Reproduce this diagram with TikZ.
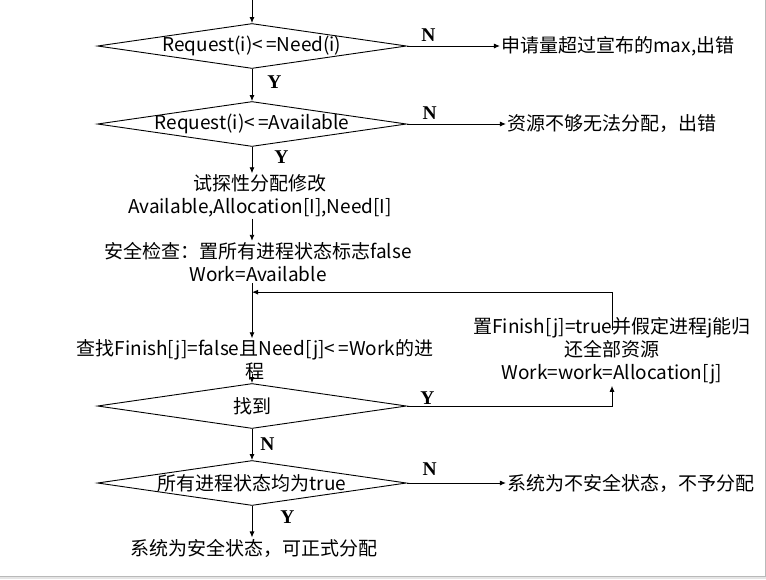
\documentclass[tikz,border=0pt]{standalone}
\usepackage{fontspec}
\setmainfont{Noto Sans CJK SC}
\newfontfamily\yesnofont{Liberation Serif}
\usetikzlibrary{positioning,shapes.geometric,arrows.meta}
\tikzset{decide/.style={draw, diamond, minimum width=309pt, minimum height=45pt, inner sep=0pt}}
\tikzset{note/.style={align=center, inner sep=1pt}}
\tikzset{yn/.style={font=\yesnofont\bfseries\fontsize{19.5}{19.5}\selectfont, inner sep=0pt}}

\begin{document}
\begin{tikzpicture}[
    x=1pt, y=-1pt,
    node distance=78pt,
    font=\fontsize{19}{23}\selectfont,
    line width=0.9pt,
    >={Latex[length=6pt,width=5pt]}
  ]
  \useasboundingbox (0,0) rectangle (766,579);

  % Main column: checks on the request
  \coordinate (start) at (252,0);
  \node (d1) [decide, label=center:{Request(i)<\,=Need(i)}] at (252,46) {};
  \node (d2) [decide, on grid, below=of d1, label=center:{Request(i)<\,=Available}] {};
  \node (t1) [note, on grid, below=72pt of d2, xshift=8pt] {试探性分配修改\\Available,Allocation[I],Need[I]};
  \node (t2) [note, on grid, below=66pt of t1, xshift=-2pt] {安全检查：置所有进程状态标志false\\Work=Available};

  % Safety loop
  \node (t3) [note, on grid, below=98pt of t2, xshift=-3pt] {查找Finish[j]=false且Need[j]<\,=Work的进\\程};
  \node (d3) [decide, on grid, below=46pt of t3, xshift=-3pt, label=center:找到] {};
  \node (d4) [decide, on grid, below=77pt of d3, label=center:{所有进程状态均为true}] {};
  \node (t4) [note, on grid, below=65pt of d4, xshift=2pt] {系统为安全状态，可正式分配};
  \node (upd) [note, on grid, above right=55pt and 360pt of d3] {置Finish[j]=true并假定进程j能归\\还全部资源\\Work=work=Allocation[j]};

  % Outcomes on the right
  \node (r1) [note, right=93pt of d1.east] {申请量超过宣布的max,出错};
  \node (r2) [note, right=99pt of d2.east] {资源不够无法分配，出错};
  \node (r3) [note, right=99pt of d4.east] {系统为不安全状态，不予分配};

  % Connections
  \draw[->] (start) -- (d1);
  \draw[->] (d1.east) -- (r1.west) node[yn, pos=0.23, above=4pt] {N};
  \draw[->] (d1) -- (d2) node[yn, pos=0.4, anchor=west, xshift=15pt] {Y};
  \draw[->] (d2.east) -- (r2.west) node[yn, pos=0.23, above=4pt] {N};
  \draw[->] (d2.south) -- (d2.south |- t1.north) node[yn, pos=0.4, anchor=west, xshift=22pt] {Y};
  \draw[->] (t1.south -| d2) -- (t2.north -| d2);
  \coordinate (back) at ([yshift=-9pt]t2.south -| d2);
  \draw[->] (t2.south -| d2) -- (t3.north -| d2);
  \draw[->] ([yshift=8pt]t3.south -| d3) -- (d3.north);
  \draw[->] (d3.east) -| (upd.south) node[yn, pos=0.05, above=1pt] {Y};
  \draw[->] ([yshift=-14pt]upd.north) |- (back);
  \draw[->] (d3) -- (d4) node[yn, pos=0.48, anchor=west, xshift=8pt] {N};
  \draw[->] (d4.east) -- (r3.west) node[yn, pos=0.23, above=7pt] {N};
  \draw[->] (d4.south) -- (d4.south |- t4.north) node[yn, pos=0.35, anchor=west, xshift=28pt] {Y};

  % Window edge
  \fill[gray!20] (0,576) rectangle (766,579);
  \draw[gray!55, line width=0.8pt] (765,0) -- (765,576) -- (0,576);
\end{tikzpicture}
\end{document}
